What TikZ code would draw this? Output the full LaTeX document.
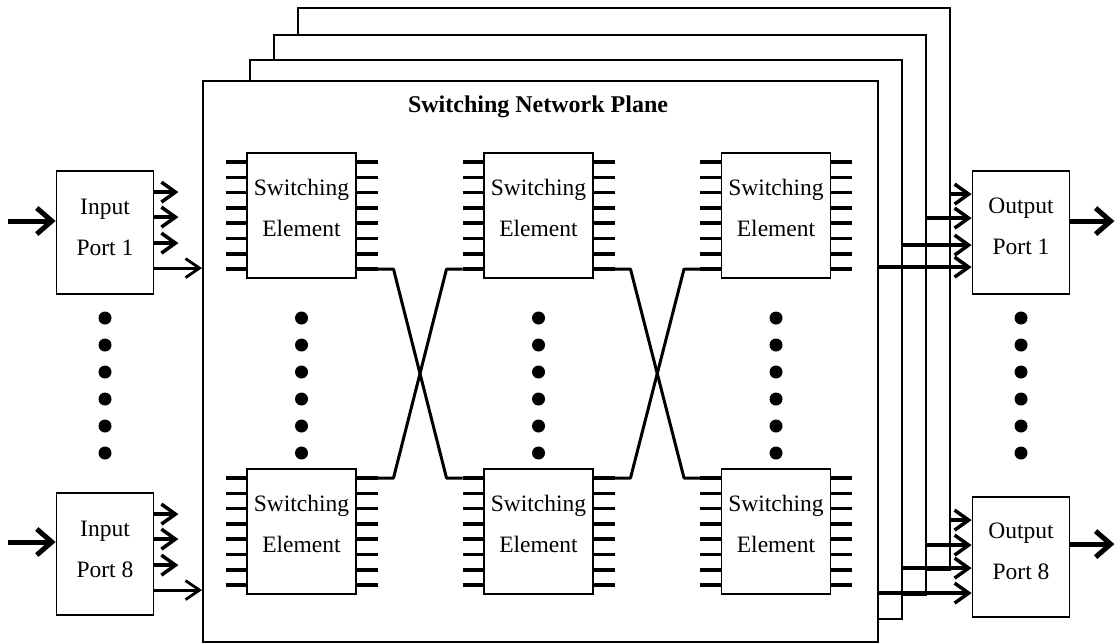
\documentclass[tikz,border=0pt]{standalone}
\usepackage{fontspec}
\setmainfont{Liberation Serif}
\usetikzlibrary{arrows.meta,calc}
\begin{document}
\begin{tikzpicture}[x=1pt,y=-1pt,
  plane/.style={draw, fill=white, line width=2pt, inner sep=0pt, anchor=north west},
  port/.style={draw, line width=1.8pt, minimum width=97pt, inner sep=0pt},
  se/.style={draw, line width=1.8pt, minimum width=109pt, minimum height=125pt, inner sep=0pt},
  lbl/.style={align=center, font=\fontsize{23.5}{41}\selectfont, inner sep=0pt},
  pin/.style={line width=3.5pt},
  conn/.style={line width=3pt, line join=round},
  bigarr/.style={line width=5pt, -{Straight Barb[length=15pt,width=26pt]}},
  smallarr/.style={line width=3.5pt, -{Straight Barb[length=14pt,width=20pt]}},
  longarr/.style={line width=2.8pt, -{Straight Barb[length=14pt,width=19pt]}},
  dot/.style={circle, fill, inner sep=0pt, minimum size=13pt}
]
\useasboundingbox (0,0) rectangle (1115,643);
% planes, back to front
\node[plane, minimum width=652pt, minimum height=562pt] (pl4) at (297,7) {};
\node[plane, minimum width=652pt, minimum height=560pt] (pl3) at (273,34) {};
\node[plane, minimum width=652pt, minimum height=559pt] (pl2) at (249,59) {};
\node[plane, minimum width=675pt, minimum height=561pt] (front) at (202,80) {};
\node[font=\bfseries\fontsize{24}{28}\selectfont, inner sep=0pt] (title) at (538,107) {Switching Network Plane};

% switching elements
\foreach \n/\cx/\ty in {a1/301.5/153, a2/301.5/469, b1/538.5/153, b2/538.5/469, c1/776/153, c2/776/469} {
  \pgfmathsetmacro\cy{\ty+62.5}
  \pgfmathsetmacro\ly{\ty+54.5}
  \node[se] (\n) at (\cx,\cy) {};
  \node[lbl] (\n-t) at (\cx,\ly) {Switching\\Element};
  \foreach \i in {1,...,8} {
    \pgfmathsetmacro\py{\ty+9+(\i-1)*15.3}
    \draw[pin] ({\cx-54.5},\py) -- ++(-21.5,0) coordinate (\n-l\i);
    \draw[pin] ({\cx+54.5},\py) -- ++(21.5,0) coordinate (\n-r\i);
  }
}
% crossings
\draw[conn] (a1-r8) -- ++(16,0) -- ($(b2-l1)+(-16,0)$) -- (b2-l1);
\draw[conn] (a2-r1) -- ++(16,0) -- ($(b1-l8)+(-16,0)$) -- (b1-l8);
\draw[conn] (b1-r8) -- ++(16,0) -- ($(c2-l1)+(-16,0)$) -- (c2-l1);
\draw[conn] (b2-r1) -- ++(16,0) -- ($(c1-l8)+(-16,0)$) -- (c1-l8);

% dots
\foreach \x [count=\c] in {105,301.5,538.5,776,1021}
  \foreach \k in {0,...,5}
    \node[dot] (dot\c-\k) at (\x,{318+27*\k}) {};

% input ports
\node[port, minimum height=123pt] (in1) at (105,232.5) {};
\node[lbl] (in1-t) at (105,227) {Input\\Port 1};
\node[port, minimum height=122pt] (in8) at (105,554) {};
\node[lbl] (in8-t) at (105,549) {Input\\Port 8};
% output ports
\node[port, minimum height=123pt] (out1) at (1021,232.5) {};
\node[lbl] (out1-t) at (1021,226.5) {Output\\Port 1};
\node[port, minimum height=120pt] (out8) at (1021,557) {};
\node[lbl] (out8-t) at (1021,551) {Output\\Port 8};

% input arrows
\coordinate (src1) at (8,221);
\coordinate (src8) at (8,542);
\draw[bigarr] (src1) -- (src1 -| in1.west);
\draw[bigarr] (src8) -- (src8 -| in8.west);
\foreach \p in {in1,in8} {
  \foreach \dy in {22,47,73}
    \draw[smallarr] (\p.north east) ++(0,\dy) -- ++(24,0);
  \path (\p.north east) ++(0,98) coordinate (\p-o);
  \draw[longarr] (\p-o) -- (\p-o -| front.west);
}
% output arrows
\foreach \p/\da/\db/\dc/\dd in {out1/24/48/75/97, out8/24/49/72/97} {
  \path (\p.north west) ++(0,\da) coordinate (\p-a);
  \path (\p.north west) ++(0,\db) coordinate (\p-b);
  \path (\p.north west) ++(0,\dc) coordinate (\p-c);
  \path (\p.north west) ++(0,\dd) coordinate (\p-d);
  \draw[smallarr] (\p-a -| pl4.east) -- (\p-a);
  \draw[smallarr] (\p-b -| pl3.east) -- (\p-b);
  \draw[smallarr] (\p-c -| pl2.east) -- (\p-c);
  \draw[smallarr] (\p-d -| front.east) -- (\p-d);
}
\path (out1.north east) ++(0,51) coordinate (out1-x);
\path (out8.north east) ++(0,48) coordinate (out8-x);
\draw[bigarr] (out1-x) -- ++(44,0);
\draw[bigarr] (out8-x) -- ++(44,0);
\end{tikzpicture}
\end{document}
